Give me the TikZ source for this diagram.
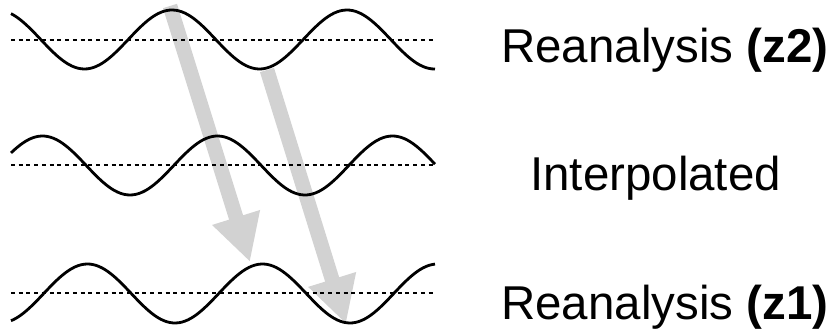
\documentclass[tikz,border=0pt]{standalone}
\usepackage{fontspec}
\setmainfont{Liberation Sans}
\usetikzlibrary{
    arrows.meta,
    positioning
}
\definecolor{arrowgray}{RGB}{210,210,210}
\tikzset{
    % Waves
    wave/.style={
        line width=2.1pt,
        draw=black,
        line join=round
    },
    zeroline/.style={
        line width=1pt,
        draw=black,
        dash pattern=on 3pt off 2.8pt
    },
    % Phase shift arrows
    shiftarrow/.style={
        -{Triangle[length=35pt,width=35pt]},
        line width=11pt,
        draw=arrowgray
    },
    % Labels
    levellabel/.style={
        anchor=base west,
        inner sep=0pt,
        font=\fontsize{35.6}{40}\selectfont
    }
}

\begin{document}
\begin{tikzpicture}[x=0.75pt, y=-0.75pt]

    \useasboundingbox (0,0) rectangle (836,331);

    % Arrow end points
    \coordinate (topcrest) at (170,6);
    \coordinate (lowcrest) at (250,262);
    \coordinate (toptrough) at (267,70);
    \coordinate (lowtrough) at (346,324);

    % Arrows
    \draw[shiftarrow] (topcrest) -- (lowcrest);
    \draw[shiftarrow] (toptrough) -- (lowtrough);

    % Reanalysis z2
    \draw[zeroline] (11,40) -- (435,40);
    \draw[wave] plot[domain=11:435, samples=140, smooth] (\x, {39.5-29.5*cos(2.0571*(\x-172))});
    \node[levellabel] (ztwo) at (501,63) {Reanalysis \textbf{(z2)}};

    % Interpolated
    \draw[zeroline] (11,165) -- (435,165);
    \draw[wave] plot[domain=11:435, samples=140, smooth] (\x, {165.5-29.5*cos(2.0571*(\x-42.5))});
    \node[levellabel] (interp) at (530,191) {Interpolated};

    % Reanalysis z1
    \draw[zeroline] (11,293) -- (435,293);
    \draw[wave] plot[domain=11:435, samples=140, smooth] (\x, {293.5-29.5*cos(2.0571*(\x-87.5))});
    \node[levellabel] (zone) at (501,320) {Reanalysis \textbf{(z1)}};

\end{tikzpicture}
\end{document}
